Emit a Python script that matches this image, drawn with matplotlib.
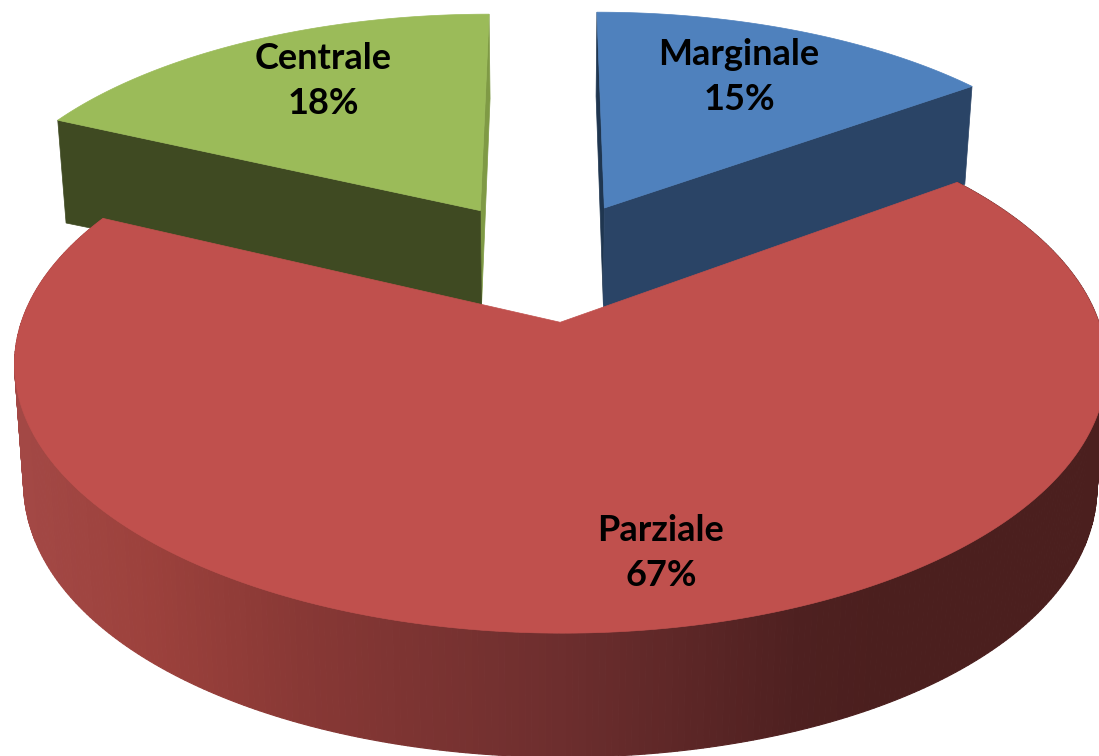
import numpy as np
import matplotlib
matplotlib.use("Agg")
import matplotlib.pyplot as plt
from matplotlib.colors import to_rgb

labels = ["Marginale", "Parziale", "Centrale"]
values = [15, 67, 18]
pct_labels = ["15%", "67%", "18%"]
top_colors = ["#4F81BD", "#C0504D", "#9BBB59"]
side_far = ["#2A4466", "#7A3030", "#3F4A22"]
side_strip = ["#1F3650", "#7A3030", "#7F9A45"]
label_xy = [(739, 77), (661, 553), (323, 81)]

W, H = 1099, 756
CX, CY, A, B, K, EXPL = 547.5, 259.9, 518.0, 241.0, 0.155, 0.25
D = 100.0

def project(X, Y):
    w = 1 + K * Y
    return CX + A * X / w, CY - B * Y / w, w

def bottom(X, Y):
    sx, sy, w = project(X, Y)
    return CX + (sx - CX) * 0.983, sy + D / w * (1 + 0.12 * X * X)

fig = plt.figure(figsize=(W / 100, H / 100), dpi=100)
ax = fig.add_axes([0, 0, 1, 1])
ax.set_xlim(0, W)
ax.set_ylim(H, 0)
ax.axis("off")

total = sum(values)
edges = np.cumsum([0] + values) / total * 2 * np.pi
grad_x = [0, 20, 150, 300, 560, 800, 880, 1099]
grad_c = ["#A34845", "#A34845", "#9C413C", "#883835", "#6D2E2E", "#4E2020", "#4B1F1E", "#4B1F1E"]
grad_rgb = np.array([to_rgb(c) for c in grad_c])

def grad(x):
    return [np.interp(x, grad_x, grad_rgb[:, i]) for i in range(3)]

parts = []
for i in range(3):
    t0, t1 = edges[i], edges[i + 1]
    mid = (t0 + t1) / 2
    ax0, ay0 = EXPL * np.sin(mid), EXPL * np.cos(mid)
    th = np.linspace(t0, t1, 400)
    parts.append((i, ax0, ay0, ax0 + np.sin(th), ay0 + np.cos(th)))

def radial(ax0, ay0, X, Y, color, z, apex_extra=0.0):
    bax, bay = bottom(ax0, ay0)
    p = [project(ax0, ay0)[:2], project(X, Y)[:2], bottom(X, Y), (bax, bay + apex_extra)]
    ax.fill(*zip(*p), color=color, lw=0.5, zorder=z)

# side walls of the two pulled-out slices
radial(*parts[0][1:3], parts[0][3][0], parts[0][4][0], side_strip[0], 1)
radial(*parts[0][1:3], parts[0][3][-1], parts[0][4][-1], side_far[0], 1, apex_extra=5)
radial(*parts[2][1:3], parts[2][3][-1], parts[2][4][-1], side_strip[2], 1)
radial(*parts[2][1:3], parts[2][3][0], parts[2][4][0], side_far[2], 1)

for i, ax0, ay0, Xs, Ys in parts:
    sx, sy, _ = project(Xs, Ys)
    if i == 1:
        bx, by = bottom(Xs, Ys)
        for j in range(len(sx) - 1):
            xm = (sx[j] + sx[j + 1]) / 2
            ax.fill([sx[j], sx[j + 1], bx[j + 1], bx[j]],
                    [sy[j], sy[j + 1], by[j + 1], by[j]],
                    color=grad(xm), lw=0.8, zorder=3)
    px, py, _ = project(ax0, ay0)
    z = 4 if i == 1 else 2
    ax.fill(np.r_[px, sx], np.r_[py, sy], color=top_colors[i], lw=0.5, zorder=z)

for (x, y), n, p in zip(label_xy, labels, pct_labels):
    ax.text(x, y, n + "\n" + p, ha="center", va="center", family="Lato",
            weight="bold", fontsize=26, color="black", linespacing=1.42, zorder=6)

fig.savefig("out.png", dpi=100)
